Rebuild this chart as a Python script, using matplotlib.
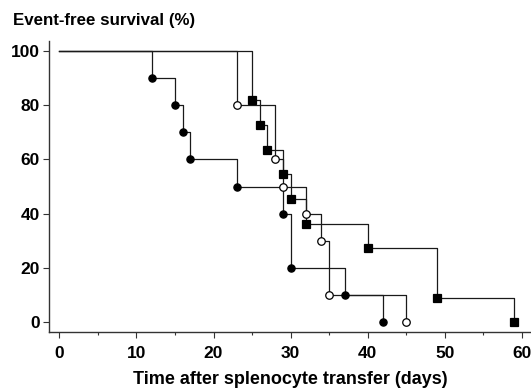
import matplotlib
matplotlib.use("Agg")
import matplotlib.pyplot as plt
from matplotlib.ticker import MultipleLocator

plt.rcParams['font.family'] = ['Liberation Sans', 'DejaVu Sans']
plt.rcParams['font.weight'] = 'bold'

# Group 1: filled circles
filled_days = [12, 15, 16, 17, 23, 29, 30, 37, 42]
filled_surv = [90, 80, 70, 60, 50, 40, 20, 10, 0]
# Group 2: open circles
open_days = [23, 28, 29, 32, 34, 35, 45]
open_surv = [80, 60, 50, 40, 30, 10, 0]
# Group 3: filled squares
square_days = [25, 26, 27, 29, 30, 32, 40, 49, 59]
square_surv = [81.8, 72.7, 63.6, 54.5, 45.5, 36.4, 27.3, 9.1, 0]

x_ticks = [0, 10, 20, 30, 40, 50, 60]
y_ticks = [0, 20, 40, 60, 80, 100]

fig = plt.figure(figsize=(5.31, 3.89), dpi=100)
ax = fig.add_axes([0.093, 0.147, 0.907, 0.748])

def km(ax, days, surv, marker, mfc, ms):
    xs = [0] + list(days)
    ys = [100] + list(surv)
    ax.step(xs, ys, where='post', color='#1a1a1a', lw=0.9, zorder=2)
    ax.plot(days, surv, linestyle='none', marker=marker, mfc=mfc, mec='black',
            mew=0.9, ms=ms, zorder=3)

km(ax, square_days, square_surv, 's', 'black', 5.4)
km(ax, open_days, open_surv, 'o', 'white', 5.4)
km(ax, filled_days, filled_surv, 'o', 'black', 5.2)

ax.set_xlim(-1.3, 61.2)
ax.set_ylim(-3.5, 103.7)
ax.set_xticks(x_ticks)
ax.set_yticks(y_ticks)
ax.xaxis.set_minor_locator(MultipleLocator(5))
for s in ['top', 'right']:
    ax.spines[s].set_visible(False)
for s in ['left', 'bottom']:
    ax.spines[s].set_color('#333333')
    ax.spines[s].set_linewidth(1.0)
ax.tick_params(axis='both', which='major', length=4, width=0.8, color='#333333',
               labelsize=12.5)
ax.tick_params(axis='x', which='major', pad=6)
ax.tick_params(axis='y', which='major', pad=3)
ax.tick_params(axis='x', which='minor', length=2.5, width=0.8, color='#333333')
for lab in ax.get_xticklabels() + ax.get_yticklabels():
    lab.set_fontweight('bold')

ax.set_xlabel('Time after splenocyte transfer (days)', fontsize=13,
              fontweight='bold', labelpad=7.5)
fig.text(0.024, 0.947, 'Event-free survival (%)', fontsize=12.2, fontweight='bold',
         ha='left', va='center')

fig.savefig('out.png', dpi=100)
